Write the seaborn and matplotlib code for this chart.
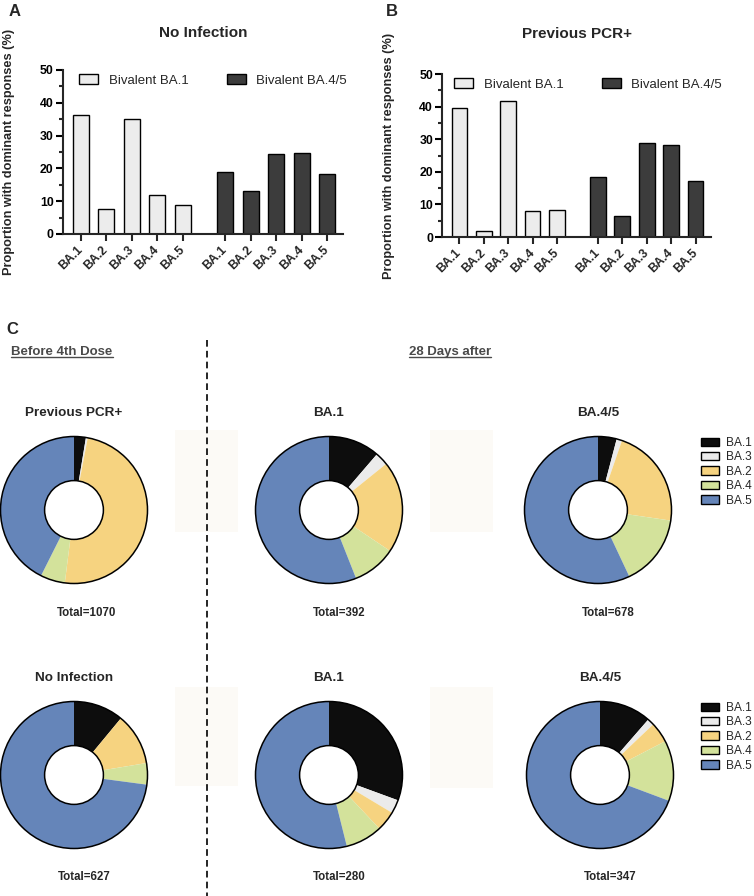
import numpy as np
import pandas as pd
import seaborn as sns
import matplotlib
matplotlib.use("Agg")
import matplotlib.pyplot as plt
from matplotlib.patches import Patch, Circle, Rectangle
from matplotlib.lines import Line2D
from matplotlib.ticker import MultipleLocator

# ---------------- data ----------------
variants = ['BA.1', 'BA.2', 'BA.3', 'BA.4', 'BA.5']
series_names = ['Bivalent BA.1', 'Bivalent BA.4/5']

noinf_biv_ba1 = [36.2, 7.7, 35.0, 11.8, 8.7]
noinf_biv_ba45 = [18.9, 13.2, 24.3, 24.6, 18.4]
pcr_biv_ba1 = [39.7, 1.7, 41.6, 8.0, 8.3]
pcr_biv_ba45 = [18.4, 6.4, 28.9, 28.1, 17.2]

pie_labels = ['BA.1', 'BA.3', 'BA.2', 'BA.4', 'BA.5']
pie_colors = ['#0d0d0d', '#ebebeb', '#f6d380', '#d3e29b', '#6585b9']

row1_titles = ['Previous PCR+', 'BA.1', 'BA.4/5']
row1_values = [
    [2.6, 0.4, 49.0, 5.4, 42.6],
    [11.3, 2.9, 20.2, 9.6, 56.0],
    [4.1, 1.2, 22.0, 15.7, 57.0],
]
row1_totals = [1070, 392, 678]

row2_titles = ['No Infection', 'BA.1', 'BA.4/5']
row2_values = [
    [11.0, 0.0, 11.4, 4.7, 72.9],
    [30.6, 3.0, 4.4, 8.1, 53.9],
    [11.4, 1.5, 4.5, 13.3, 69.3],
]
row2_totals = [627, 280, 347]

# ---------------- style ----------------
sns.set_theme(style='ticks')
plt.rcParams['font.family'] = ['Liberation Sans', 'DejaVu Sans']
plt.rcParams['axes.linewidth'] = 1.5

W, H = 754, 896
fig = plt.figure(figsize=(W / 100, H / 100), dpi=100)
fig.patch.set_facecolor('white')


def px_axes(x0, y0, x1, y1):
    return fig.add_axes([x0 / W, 1 - y1 / H, (x1 - x0) / W, (y1 - y0) / H])


def ftext(x, y, s, **kw):
    return fig.text(x / W, 1 - y / H, s, **kw)


LIGHT = '#ececec'
DARK = '#3c3c3c'
GAP = 5.67


def bar_panel(rect, vals1, vals2, title, title_xy, letter, letter_xy, leg_x, leg_y, ylab_x):
    ax = px_axes(*rect)
    pos = list(range(len(variants))) + [GAP + i for i in range(len(variants))]
    df = pd.DataFrame({
        'pos': pos,
        'val': list(vals1) + list(vals2),
        'series': [series_names[0]] * len(vals1) + [series_names[1]] * len(vals2),
    })
    sns.barplot(data=df, x='pos', y='val', hue='series', native_scale=True, dodge=False,
                palette=[LIGHT, DARK], saturation=1, width=0.64, edgecolor='black',
                linewidth=1.0, errorbar=None, legend=False, ax=ax)
    ax.set_xlim(-0.71, GAP + 4 + 0.63)
    ax.set_ylim(0, 50)
    sns.despine(ax=ax)
    ax.spines['left'].set_linewidth(1.5)
    ax.spines['bottom'].set_linewidth(1.5)
    ax.set_yticks(range(0, 51, 10))
    ax.set_yticklabels([str(v) for v in range(0, 51, 10)], fontweight='bold', fontsize=8.8)
    ax.yaxis.set_minor_locator(MultipleLocator(5))
    ax.tick_params(axis='y', which='major', length=5, width=1.5, pad=1.5, colors='black')
    ax.tick_params(axis='y', which='minor', length=3, width=1.5)
    ax.set_xticks(pos)
    ax.set_xticklabels(variants * 2, rotation=45, ha='right', va='center',
                       rotation_mode='anchor', fontweight='bold', fontsize=8.8)
    ax.tick_params(axis='x', which='major', length=5, width=1.5, pad=5)
    ax.tick_params(axis='x', which='minor', length=0)
    ax.set_xlabel('')
    ax.set_ylabel('Proportion with dominant responses (%)', fontweight='bold', fontsize=9.2)
    ax.yaxis.set_label_coords(ylab_x, 0.5)
    ax.set_facecolor('white')
    handles = [Patch(facecolor=LIGHT, edgecolor='black', linewidth=1.0),
               Patch(facecolor=DARK, edgecolor='black', linewidth=1.0)]
    ax.legend(handles, series_names, ncol=2, loc='upper left', bbox_to_anchor=(leg_x, leg_y),
              frameon=False, fontsize=9.5, handlelength=1.45, handleheight=0.75,
              handletextpad=0.8, columnspacing=2.9, borderaxespad=0, borderpad=0)
    ftext(*title_xy, title, ha='center', va='center', fontsize=11, fontweight='bold')
    ftext(*letter_xy, letter, ha='center', va='center', fontsize=12, fontweight='bold')
    return ax


bar_panel((62.7, 70, 343.3, 234), noinf_biv_ba1, noinf_biv_ba45, 'No Infection', (203, 33),
          'A', (14.5, 11), 0.058, 0.975, -0.17)
bar_panel((442, 74, 711, 237), pcr_biv_ba1, pcr_biv_ba45, 'Previous PCR+', (577, 34),
          'B', (392, 11), 0.044, 0.975, -0.175)

# ---------------- panel C ----------------
ftext(12, 330, 'C', ha='center', va='center', fontsize=12, fontweight='bold')
t1 = ftext(62, 352, 'Before 4th Dose', ha='center', va='center', fontsize=9.5,
           fontweight='bold', color='#4a4a4a')
t2 = ftext(450, 352, '28 Days after', ha='center', va='center', fontsize=9.5,
           fontweight='bold', color='#4a4a4a')

fig.add_artist(Line2D([207 / W, 207 / W], [1 - 340 / H, 0], color='black', lw=1.2,
                      linestyle=(0, (4, 2.5))))

# faint scan rectangles
for (x0, y0, x1, y1) in [(175, 430, 238, 532), (430, 430, 493, 532),
                         (175, 687, 238, 786), (430, 687, 493, 788)]:
    fig.add_artist(Rectangle((x0 / W, 1 - y1 / H), (x1 - x0) / W, (y1 - y0) / H,
                             transform=fig.transFigure, facecolor='#fcfaf6',
                             edgecolor='none', zorder=-1))

R = 73.5
rows = [
    (510, [74, 329, 598], row1_titles, row1_values, row1_totals, 613, [87, 339, 608]),
    (775, [74, 329, 600], row2_titles, row2_values, row2_totals, 877, [84, 339, 610]),
]
for cy, cxs, titles, values, totals, ty, txs in rows:
    for cx, title, vals, tot, tx in zip(cxs, titles, values, totals, txs):
        m = 1.05
        ax = px_axes(cx - R * m, cy - R * m, cx + R * m, cy + R * m)
        ax.pie(vals, colors=pie_colors, startangle=90, counterclock=False, radius=1,
               wedgeprops=dict(width=0.6, linewidth=0))
        ax.add_patch(Circle((0, 0), 1.0, fill=False, edgecolor='black', lw=1.1))
        ax.add_patch(Circle((0, 0), 0.4, fill=False, edgecolor='black', lw=1.1))
        ax.set_xlim(-m, m)
        ax.set_ylim(-m, m)
        ax.set_aspect('equal')
        ax.axis('off')
        ftext(cx, cy - 97, title, ha='center', va='center', fontsize=9.7, fontweight='bold')
        ftext(tx, ty, f'Total={tot}', ha='center', va='center', fontsize=8.3, fontweight='bold')
    handles = [Patch(facecolor=c, edgecolor='black', linewidth=1.0) for c in pie_colors]
    fig.legend(handles, pie_labels, loc='upper left',
               bbox_to_anchor=(701 / W, 1 - (cy - 73) / H), frameon=False,
               fontsize=8.6, handlelength=1.5, handleheight=0.7, handletextpad=0.6,
               labelspacing=0.2, borderpad=0, borderaxespad=0)

# underline headings
fig.canvas.draw()
r = fig.canvas.get_renderer()
for t in (t1, t2):
    bb = t.get_window_extent(r)
    fig.add_artist(Line2D([bb.x0 / W, bb.x1 / W], [(bb.y0 + 1) / H] * 2,
                          color='#4a4a4a', lw=1.0))

fig.savefig('out.png', dpi=100, facecolor='white')
